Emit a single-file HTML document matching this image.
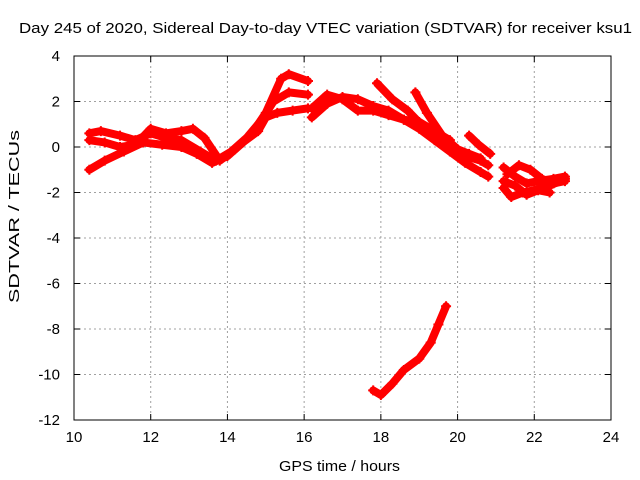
<!DOCTYPE html>
<html><head><meta charset="utf-8"><style>
body{margin:0;background:#fff;}
svg{display:block;font-family:"Liberation Sans",sans-serif;}
</style></head><body>
<svg id="chart" width="640" height="480">
<rect width="640" height="480" fill="#fff"/>
<text x="19" y="33" font-size="15" textLength="613" lengthAdjust="spacingAndGlyphs">Day 245 of 2020, Sidereal Day-to-day VTEC variation (SDTVAR) for receiver ksu1</text>
<g id="grid"></g>
<g id="axes"></g>
<g id="marks"></g>
<text x="279" y="471" font-size="15" textLength="121" lengthAdjust="spacingAndGlyphs">GPS time / hours</text>
<text transform="translate(19,303) rotate(-90)" font-size="15" textLength="173" lengthAdjust="spacingAndGlyphs">SDTVAR / TECUs</text>
</svg>
<script>
const xTicks=[10,12,14,16,18,20,22,24];
const yTicks=[4,2,0,-2,-4,-6,-8,-10,-12];
const seriesA=[[10.4,-1.0],[10.8,-0.6],[11.3,-0.2],[11.8,0.2],[12.3,0.1],[12.8,0.0],[13.2,-0.3],[13.6,-0.7],[14.0,-0.4],[14.4,0.2],[14.8,0.7],[15.0,1.3],[15.3,1.5],[15.7,1.6],[16.1,1.7]];
const seriesB=[[10.4,0.6],[10.7,0.7],[11.2,0.5],[11.6,0.3],[12.0,0.6],[12.4,0.4],[12.8,0.3],[13.3,-0.2],[13.7,-0.6],[14.1,-0.2],[14.5,0.4],[14.9,1.2],[15.2,2.0],[15.6,2.4],[16.1,2.3]];
const seriesC=[[10.4,0.3],[10.8,0.2],[11.2,0.0],[11.6,0.1],[12.0,0.8],[12.4,0.6],[12.8,0.7],[13.1,0.8],[13.4,0.4],[13.8,-0.6],[14.2,-0.1],[14.6,0.5],[15.0,1.5],[15.4,3.0],[15.6,3.2],[16.1,2.9]];
const seriesD=[[16.2,1.3],[16.6,1.9],[17.0,2.2],[17.4,2.1],[17.8,1.8],[18.2,1.6],[18.6,1.2],[19.0,0.8],[19.4,0.3],[19.8,-0.2],[20.2,-0.7],[20.6,-1.1],[20.8,-1.3]];
const seriesE=[[16.2,1.7],[16.6,2.3],[17.0,2.1],[17.4,1.6],[17.8,1.6],[18.2,1.4],[18.6,1.2],[19.0,1.1],[19.4,0.7],[19.8,0.2],[20.2,-0.4],[20.6,-0.6],[20.8,-0.8]];
const seriesF=[[17.9,2.8],[18.3,2.1],[18.7,1.6],[19.1,0.9],[19.5,0.6],[19.8,0.3]];
const seriesG=[[18.9,2.4],[19.2,1.5],[19.6,0.5],[20.0,-0.1],[20.3,-0.3],[20.6,-0.5]];
const seriesH=[[20.3,0.5],[20.55,0.1],[20.85,-0.3]];
const seriesI=[[21.2,-0.9],[21.5,-1.3],[21.8,-1.6],[22.1,-1.5],[22.5,-1.4],[22.8,-1.3]];
const seriesJ=[[21.2,-1.8],[21.4,-2.2],[21.7,-2.0],[22.0,-1.9],[22.4,-1.7],[22.8,-1.4]];
const seriesK=[[21.3,-1.2],[21.6,-0.8],[21.9,-1.0],[22.2,-1.4],[22.5,-1.6],[22.8,-1.5]];
const seriesL=[[21.2,-1.5],[21.5,-1.7],[21.8,-2.1],[22.1,-1.9],[22.4,-2.0]];
const seriesM=[[17.8,-10.7],[18.0,-10.9],[18.3,-10.4],[18.6,-9.8],[19.0,-9.3],[19.3,-8.6],[19.5,-7.8],[19.7,-7.0]];
const allSeries=[seriesA,seriesB,seriesC,seriesD,seriesE,seriesF,seriesG,seriesH,seriesI,seriesJ,seriesK,seriesL,seriesM];
const L=74,R=611,T=56,B=420,NS="http://www.w3.org/2000/svg";
const xs=v=>L+(v-10)/14*(R-L);
const ys=v=>T+(4-v)/16*(B-T);
function mk(p,tag,at){const e=document.createElementNS(NS,tag);for(const k in at)e.setAttribute(k,at[k]);p.appendChild(e);return e;}
const grid=document.getElementById('grid'),axes=document.getElementById('axes'),marks=document.getElementById('marks');
xTicks.forEach(t=>{const x=xs(t);
 if(t>10&&t<24){const g=mk(grid,'line',{x1:x,x2:x,y1:T,y2:B,stroke:'#a0a0a0','stroke-dasharray':'2,3'});
 }
 mk(axes,'line',{x1:x,x2:x,y1:B,y2:B-6,stroke:'#000'});mk(axes,'line',{x1:x,x2:x,y1:T,y2:T+6,stroke:'#000'});
 const tx=mk(axes,'text',{x:x,y:B+22,'font-size':15,'text-anchor':'middle'});tx.textContent=t;
 });
yTicks.forEach(t=>{const y=ys(t);
 if(t<4&&t>-12){const g=mk(grid,'line',{x1:L,x2:R,y1:y,y2:y,stroke:'#a0a0a0','stroke-dasharray':'2,3'});
 }
 mk(axes,'line',{x1:L,x2:L+6,y1:y,y2:y,stroke:'#000'});mk(axes,'line',{x1:R,x2:R-6,y1:y,y2:y,stroke:'#000'});
 const tx=mk(axes,'text',{x:L-14,y:y+5,'font-size':15,'text-anchor':'end'});tx.textContent=t;
 });
mk(axes,'rect',{x:L,y:T,width:R-L,height:B-T,fill:'none',stroke:'#000'});
allSeries.forEach(s=>{
 const pl=mk(marks,'polyline',{points:s.map(p=>xs(p[0])+','+ys(p[1])).join(' '),fill:'none',stroke:'#f00','stroke-width':8,'stroke-linejoin':'round','stroke-linecap':'round'});
 
 
 s.forEach(p=>{const x=xs(p[0]),y=ys(p[1]);
  const g=mk(marks,'path',{d:`M${x-5},${y}H${x+5}M${x},${y-5}V${y+5}`,stroke:'#f00','stroke-width':2});
  
  });
});
</script>
</body></html>
